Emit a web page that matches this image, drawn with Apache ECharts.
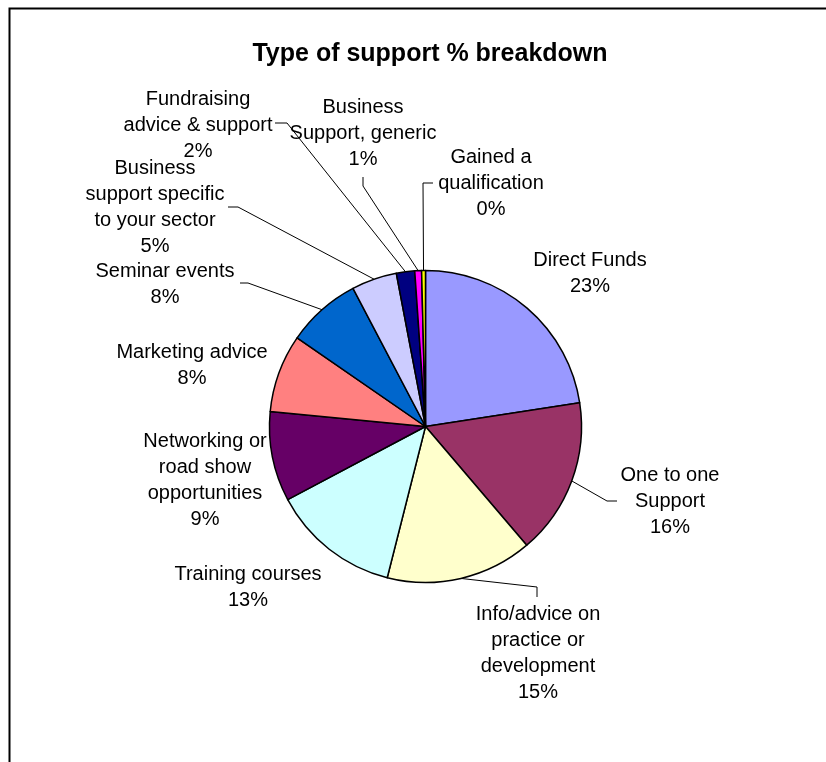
<!DOCTYPE html>
<html>
<head>
<meta charset="utf-8">
<style>
  html, body { margin: 0; padding: 0; background: #ffffff; }
  #chart { width: 826px; height: 762px; }
</style>
<script src="https://cdn.jsdelivr.net/npm/echarts@6/dist/echarts.min.js"></script>
</head>
<body>
<div id="chart"></div>
<script>
// Share of each type of support (per cent of responses)
const categories = [
  'Direct Funds',
  'One to one\nSupport',
  'Info/advice on\npractice or\ndevelopment',
  'Training courses',
  'Networking or\nroad show\nopportunities',
  'Marketing advice',
  'Seminar events',
  'Business\nsupport specific\nto your sector',
  'Fundraising\nadvice & support',
  'Business\nSupport, generic',
  'Gained a\nqualification'
];
const shares = [22.6, 16.2, 15.2, 13.3, 9.3, 8.1, 7.7, 4.7, 1.9, 0.7, 0.4];

// Slice fills, classic office palette
const sliceColors = [
  '#9999FF', '#993366', '#FFFFCC', '#CCFFFF', '#660066', '#FF8080',
  '#0066CC', '#CCCCFF', '#000080', '#FF00FF', '#FFFF00'
];

// Label placement: text centre, plus optional leader elbow and end
const labelSpots = [
  { x: 590, y: 273.5 },
  { x: 670, y: 501, elbow: [607, 501], end: [617, 501] },
  { x: 538, y: 653, elbow: [537, 587], end: [537, 597] },
  { x: 248, y: 587.5 },
  { x: 205, y: 480 },
  { x: 192, y: 365 },
  { x: 165, y: 284, elbow: [248, 283], end: [240, 283] },
  { x: 155, y: 207, elbow: [238, 207], end: [228, 207] },
  { x: 198, y: 125, elbow: [287, 123], end: [275, 123] },
  { x: 363, y: 133, elbow: [363, 186], end: [363, 177] },
  { x: 491, y: 183, elbow: [423, 183], end: [433, 183] }
];

const chart = echarts.init(document.getElementById('chart'), null, { renderer: 'canvas' });

const pieData = categories.map((name, i) => ({
  name: name,
  value: shares[i],
  itemStyle: { color: sliceColors[i] },
  labelLine: { show: !!labelSpots[i].elbow }
}));

chart.setOption({
  animation: false,
  backgroundColor: '#ffffff',
  graphic: [
    {
      type: 'rect',
      left: 7, top: 6,
      shape: { width: 900, height: 900 },
      style: { fill: 'none', stroke: '#000000', lineWidth: 2 },
      z: -1
    }
  ],
  title: {
    text: 'Type of support % breakdown',
    left: 425,
    textAlign: 'center',
    top: 37,
    textStyle: {
      fontFamily: 'Liberation Sans, Arial, sans-serif',
      fontSize: 25,
      fontWeight: 'bold',
      color: '#000000'
    }
  },
  series: [
    {
      type: 'pie',
      center: [425.5, 426.5],
      radius: 156,
      startAngle: 90,
      clockwise: true,
      avoidLabelOverlap: false,
      silent: true,
      data: pieData,
      itemStyle: { borderColor: '#000000', borderWidth: 1.5 },
      label: {
        show: true,
        position: 'outside',
        color: '#000000',
        fontFamily: 'Liberation Sans, Arial, sans-serif',
        fontSize: 20,
        lineHeight: 26,
        align: 'center',
        formatter: p => p.name + '\n' + Math.round(p.percent) + '%'
      },
      labelLine: {
        show: true,
        length: 10,
        length2: 10,
        lineStyle: { color: '#000000', width: 1 }
      },
      labelLayout: function (params) {
        const spot = labelSpots[params.dataIndex];
        const out = {
          x: spot.x,
          y: spot.y,
          align: 'center',
          verticalAlign: 'middle'
        };
        if (spot.elbow && params.labelLinePoints && params.labelLinePoints.length) {
          out.labelLinePoints = [
            params.labelLinePoints[0],
            spot.elbow,
            spot.end
          ];
        }
        return out;
      }
    }
  ]
});
</script>
</body>
</html>
